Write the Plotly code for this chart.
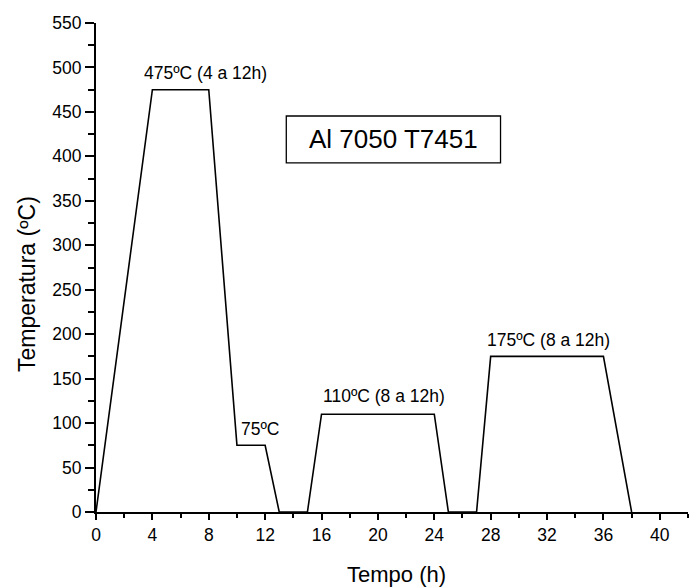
import plotly.graph_objects as go

tempo = [0, 4, 8, 10, 12, 13, 15, 16, 24, 25, 27, 28, 36, 38]
temperatura = [0, 475, 475, 75, 75, 0, 0, 110, 110, 0, 0, 175, 175, 0]

label_text = ["475ºC (4 a 12h)", "75ºC", "110ºC (8 a 12h)", "175ºC (8 a 12h)"]
label_x = [7.8, 11.7, 20.4, 32.1]
label_y = [494, 93, 130, 193]

x_ticks = [0, 4, 8, 12, 16, 20, 24, 28, 32, 36, 40]
y_ticks = [0, 50, 100, 150, 200, 250, 300, 350, 400, 450, 500, 550]

FONT = "Arial, Liberation Sans, sans-serif"
W, H = 689, 588
L, R, T, B = 96, 1, 23, 76
PW, PH = W - L - R, H - T - B

fig = go.Figure()
fig.add_trace(go.Scatter(x=tempo, y=temperatura, mode="lines",
                         line=dict(color="black", width=1.6),
                         showlegend=False, hoverinfo="skip", cliponaxis=False))

for t, x, y in zip(label_text, label_x, label_y):
    fig.add_annotation(x=x, y=y, text=t, showarrow=False,
                       font=dict(family=FONT, size=17.5, color="black"))

fig.add_shape(type="rect", x0=13.5, x1=28.7, y0=392.6, y1=445.4,
              line=dict(color="black", width=1.3), fillcolor="rgba(0,0,0,0)")
fig.add_annotation(x=21.1, y=419, text="Al 7050 T7451", showarrow=False,
                   font=dict(family=FONT, size=26, color="black"))

# axis titles
fig.add_annotation(xref="paper", yref="paper", x=(27 - L) / PW, y=(H - B - 284) / PH,
                   text="Temperatura (ºC)", textangle=-90, showarrow=False,
                   xanchor="center", yanchor="middle",
                   font=dict(family=FONT, size=23, color="black"))
fig.add_annotation(xref="paper", yref="paper", x=(396 - L) / PW, y=(H - B - 574) / PH,
                   text="Tempo (h)", showarrow=False,
                   xanchor="center", yanchor="middle",
                   font=dict(family=FONT, size=22, color="black"))

fig.update_layout(
    width=W, height=H,
    margin=dict(l=L, r=R, t=T, b=B),
    plot_bgcolor="white", paper_bgcolor="white",
    font=dict(family=FONT, color="black"),
    xaxis=dict(range=[0, 42], tickvals=x_ticks, showgrid=False, zeroline=False,
               showline=True, linecolor="black", linewidth=2,
               ticks="outside", ticklen=6, tickwidth=2, tickcolor="black",
               minor=dict(dtick=2, tick0=0, ticks="outside", ticklen=4, tickwidth=1.5, tickcolor="black"),
               tickfont=dict(size=17.5, family=FONT)),
    yaxis=dict(range=[0, 550], tickvals=y_ticks, showgrid=False, zeroline=False,
               showline=True, linecolor="black", linewidth=2,
               ticks="outside", ticklen=9, tickwidth=2, tickcolor="black",
               minor=dict(dtick=25, tick0=0, ticks="outside", ticklen=6, tickwidth=1.5, tickcolor="black"),
               tickfont=dict(size=17.5, family=FONT)),
)

fig.write_html("out.html", config={"displayModeBar": False},
               post_script="document.body.style.margin='0';document.body.style.overflow='hidden';")
